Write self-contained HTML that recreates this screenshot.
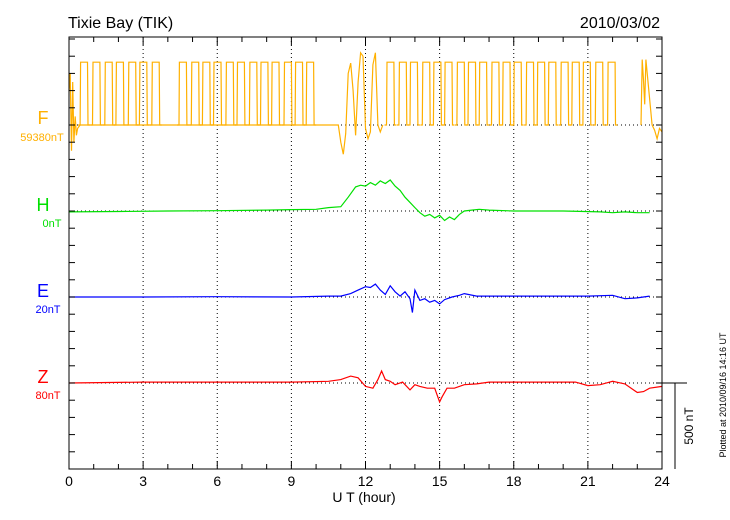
<!DOCTYPE html>
<html><head><meta charset="utf-8"><style>
body{margin:0;background:#fff;font-family:"Liberation Sans",sans-serif;overflow:hidden}
svg{display:block}
</style></head><body>
<svg id="chart" width="730" height="520" xmlns="http://www.w3.org/2000/svg" font-family="Liberation Sans, sans-serif">
<text x="68" y="28" font-size="16">Tixie Bay (TIK)</text>
<text x="660" y="28" font-size="16" text-anchor="end">2010/03/02</text>
<g id="grid"></g>
<g id="series"></g>
<rect x="69" y="37" width="593" height="432" fill="none" stroke="#000" stroke-width="1"/>
<g id="axes"></g>
<text x="364" y="502" font-size="14" text-anchor="middle">U T (hour)</text>
<line x1="662" y1="383" x2="687" y2="383" stroke="#000"/>
<line x1="675" y1="383" x2="675" y2="469" stroke="#000"/>
<text transform="translate(693,426) rotate(-90)" font-size="12" text-anchor="middle">500 nT</text>
<text transform="translate(726,395) rotate(-90)" font-size="9" text-anchor="middle">Plotted at 2010/09/16 14:16 UT</text>
<text x="43" y="124" font-size="18" fill="#ffb000" text-anchor="middle">F</text>
<text x="42" y="141" font-size="11" fill="#ffb000" text-anchor="middle">59380nT</text>
<text x="43" y="211" font-size="18" fill="#00e000" text-anchor="middle">H</text>
<text x="52" y="227" font-size="11" fill="#00e000" text-anchor="middle">0nT</text>
<text x="43" y="297" font-size="18" fill="#0000ff" text-anchor="middle">E</text>
<text x="48" y="313" font-size="11" fill="#0000ff" text-anchor="middle">20nT</text>
<text x="43" y="383" font-size="18" fill="#ff0000" text-anchor="middle">Z</text>
<text x="48" y="399" font-size="11" fill="#ff0000" text-anchor="middle">80nT</text>
</svg>
<script>
const xTicks=[0,3,6,9,12,15,18,21,24];
const baselinesNT=[0,-500,-1000,-1500];
const fPulseStarts=[0.45,0.95,1.45,1.9,2.4,2.85,3.35,4.45,4.95,5.4,5.85,6.35,6.8,7.3,7.75,8.2,8.7,9.15,9.6,12.85,13.35,13.8,14.3,14.75,15.2,15.7,16.15,16.6,17.1,17.55,18.0,18.5,18.95,19.4,19.9,20.35,20.8,21.3,21.8];
const fHigh=365;
const fIrrT=[0,0.05,0.1,0.15,0.2,0.25,0.3,0.35,0.45,10.9,11.0,11.1,11.2,11.3,11.4,11.5,11.6,11.7,11.8,11.9,12.0,12.1,12.2,12.3,12.4,12.5,12.6,12.7];
const fIrrV=[200,300,-150,250,-100,50,-60,-20,0,0,-100,-170,-50,300,360,200,-60,250,420,400,-20,-80,-40,350,420,0,-40,0];
const fEndT=[23.15,23.2,23.25,23.3,23.35,23.6,23.7,23.8,23.9,24];
const fEndV=[0,380,260,120,380,0,-30,-80,-20,-40];
const hT=[0,2,4,6,8,9,10,10.5,11,11.3,11.6,11.8,12,12.2,12.4,12.6,12.8,13,13.2,13.4,13.6,13.8,14,14.2,14.4,14.6,14.8,15,15.2,15.4,15.6,15.8,16,16.3,16.6,17,18,20,21.5,22,22.5,23,23.5];
const hV=[-5,-3,0,2,5,8,10,20,25,80,140,150,145,165,150,175,160,180,145,120,80,50,20,-10,-30,-20,-40,-25,-55,-35,-50,-20,0,5,10,5,0,0,-5,-10,-5,-10,-10];
const eT=[0,3,6,9,10.5,11,11.4,11.7,12,12.2,12.4,12.6,12.8,13,13.2,13.4,13.6,13.8,13.9,14,14.2,14.4,14.6,14.8,15,15.2,15.5,15.8,16,16.5,17,19,21,22,22.5,23,23.5];
const eV=[0,0,2,0,5,5,20,40,60,55,75,40,15,65,30,5,30,-10,-90,40,-20,-10,-30,-20,-40,-15,0,10,20,5,5,5,5,10,-10,-5,5];
const zT=[0,3,6,9,10.5,11,11.4,11.7,12,12.3,12.5,12.65,12.8,13,13.2,13.5,13.8,14,14.2,14.5,14.8,15,15.1,15.3,15.6,16,16.5,17,19,20.5,21,21.5,22,22.5,23,23.25,23.5,24];
const zV=[0,5,5,5,10,20,40,30,-20,-30,20,70,20,10,-10,5,-40,-10,-20,-30,-30,-110,-80,-30,-30,-10,-5,5,5,5,-15,-10,10,-5,-55,-50,-30,-20];
const X=h=>69+h*593/24, Y0=125, PX=86/500;
const Y=(v,b)=>Y0-(v+b)*PX;
const ns="http://www.w3.org/2000/svg";
function mk(tag,at,parent){const e=document.createElementNS(ns,tag);for(const k in at)e.setAttribute(k,at[k]);document.getElementById(parent).appendChild(e);return e;}
xTicks.slice(1,-1).forEach(h=>{const l=mk('line',{x1:X(h),x2:X(h),y1:37,y2:469,stroke:'#000','stroke-dasharray':'1,3'},'grid');

});
baselinesNT.forEach(b=>{const l=mk('line',{x1:69,x2:662,y1:Y(0,b),y2:Y(0,b),stroke:'#000','stroke-dasharray':'1,3'},'grid');

});
for(let h=0;h<=24;h++){const len=h%3===0?8:5;
 const a=mk('line',{x1:X(h),x2:X(h),y1:469,y2:469-len,stroke:'#000'},'axes');
 
 
 const b=mk('line',{x1:X(h),x2:X(h),y1:37,y2:37+len,stroke:'#000'},'axes');
 
 }
xTicks.forEach(h=>{const t=mk('text',{x:X(h),y:486,'font-size':14,'text-anchor':'middle'},'axes');t.textContent=h;

});
for(let y=469;y>37;y-=17.2){
 const a=mk('line',{x1:69,x2:75,y1:y,y2:y,stroke:'#000'},'axes');
 
 
 const b=mk('line',{x1:662,x2:656,y1:y,y2:y,stroke:'#000'},'axes');
 
 }
function line(ts,vs,b,color,name){const p=ts.map((t,i)=>X(t).toFixed(1)+','+Y(vs[i],b).toFixed(1)).join(' ');
 const e=mk('polyline',{points:p,fill:'none',stroke:color,'stroke-width':1.2},'series');
 
 }
line(fIrrT,fIrrV,0,'#ffb000','f-series-irregular');
line(fEndT,fEndV,0,'#ffb000','f-series-end');
fPulseStarts.forEach(s=>{const ts=[s-0.08,s,s+0.02,s+0.3,s+0.32,s+0.4];const vs=[0,0,fHigh,fHigh,0,0];
 line(ts,vs,0,'#ffb000','f-pulse');});
line(hT,hV,-500,'#00e000','h-series');
line(eT,eV,-1000,'#0000ff','e-series');
line(zT,zV,-1500,'#ff0000','z-series');
</script>
</body></html>
